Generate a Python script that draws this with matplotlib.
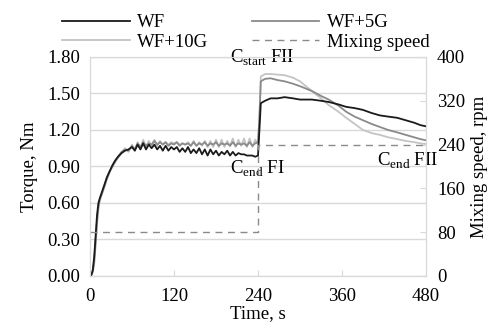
import numpy as np
import matplotlib.pyplot as plt
from matplotlib.lines import Line2D

plt.rcParams['font.family'] = ['Liberation Serif', 'DejaVu Serif']
plt.rcParams['mathtext.fontset'] = 'custom'
plt.rcParams['mathtext.rm'] = 'Liberation Serif'
plt.rcParams['font.size'] = 13.5

# --- data ---
# phase I (0-240 s), torque in Nm
t1 = [0, 2, 4, 6, 8, 10, 12, 14, 17, 20, 24, 28, 32, 36, 40, 45, 50, 55, 60, 64, 68, 72,
      76, 80, 84, 88, 92, 96, 100, 104, 108, 112, 116, 120, 124, 128, 132, 136, 140, 144,
      148, 152, 156, 160, 164, 168, 172, 176, 180, 184, 188, 192, 196, 200, 204, 208, 212,
      216, 220, 224, 228, 232, 236, 240]
wf_1 = [0.0, 0.01, 0.05, 0.16, 0.33, 0.50, 0.60, 0.64, 0.69, 0.74, 0.81, 0.86, 0.91, 0.95,
        0.98, 1.01, 1.03, 1.04, 1.06, 1.03, 1.08, 1.04, 1.09, 1.04, 1.08, 1.05, 1.08, 1.04,
        1.07, 1.03, 1.07, 1.03, 1.06, 1.04, 1.06, 1.02, 1.05, 1.02, 1.06, 1.01, 1.04, 1.01,
        1.05, 1.00, 1.04, 0.99, 1.04, 1.00, 1.03, 0.99, 1.02, 1.00, 1.03, 0.99, 1.02, 0.99,
        1.01, 1.00, 1.00, 0.99, 0.99, 0.99, 0.98, 0.99]
g5_1 = [0.0, 0.01, 0.04, 0.12, 0.28, 0.45, 0.57, 0.63, 0.68, 0.73, 0.80, 0.86, 0.90, 0.94,
        0.98, 1.02, 1.04, 1.03, 1.07, 1.04, 1.09, 1.06, 1.10, 1.07, 1.09, 1.08, 1.11, 1.08,
        1.10, 1.08, 1.10, 1.07, 1.09, 1.08, 1.10, 1.07, 1.09, 1.08, 1.09, 1.07, 1.10, 1.07,
        1.09, 1.08, 1.10, 1.07, 1.09, 1.08, 1.10, 1.07, 1.09, 1.08, 1.09, 1.07, 1.10, 1.07,
        1.09, 1.08, 1.09, 1.07, 1.10, 1.07, 1.09, 1.10]
g10_1 = [0.0, 0.01, 0.03, 0.10, 0.25, 0.42, 0.55, 0.62, 0.67, 0.72, 0.79, 0.85, 0.90, 0.94,
         0.97, 1.01, 1.05, 1.02, 1.08, 1.03, 1.10, 1.05, 1.12, 1.06, 1.11, 1.07, 1.12, 1.07,
         1.11, 1.08, 1.10, 1.08, 1.10, 1.09, 1.10, 1.08, 1.09, 1.08, 1.10, 1.07, 1.11, 1.07,
         1.10, 1.07, 1.11, 1.06, 1.11, 1.06, 1.12, 1.06, 1.12, 1.06, 1.11, 1.07, 1.13, 1.06,
         1.12, 1.07, 1.13, 1.06, 1.13, 1.06, 1.12, 1.08]

# phase II (240-480 s)
t2 = [242, 244, 250, 258, 268, 278, 290, 300, 317, 330, 341, 355, 366, 378, 390, 402,
      414, 426, 439, 451, 463, 472, 480]
wf_2 = [1.20, 1.42, 1.44, 1.46, 1.46, 1.47, 1.46, 1.45, 1.45, 1.44, 1.43, 1.41, 1.39, 1.38,
        1.365, 1.34, 1.32, 1.31, 1.30, 1.28, 1.26, 1.24, 1.23]
g5_2 = [1.30, 1.60, 1.62, 1.625, 1.61, 1.60, 1.58, 1.56, 1.52, 1.48, 1.45, 1.40, 1.35, 1.31,
        1.28, 1.25, 1.225, 1.20, 1.18, 1.16, 1.14, 1.125, 1.115]
g10_2 = [1.30, 1.64, 1.66, 1.66, 1.655, 1.65, 1.63, 1.60, 1.52, 1.46, 1.405, 1.35, 1.30,
         1.25, 1.20, 1.175, 1.16, 1.14, 1.125, 1.11, 1.10, 1.09, 1.085]

# mixing speed, rpm
speed_t = [0, 240, 240, 480]
speed_rpm = [80, 80, 240, 240]

t = t1 + t2
wf = wf_1 + wf_2
g5 = g5_1 + g5_2
g10 = g10_1 + g10_2

c_wf = '#1a1a1a'
c_5g = '#8a8a8a'
c_10g = '#c4c4c4'
c_speed = '#8a8a8a'
c_grid = '#d9d9d9'

fig = plt.figure(figsize=(4.9, 3.26), dpi=100)
ax = fig.add_axes([0.1837, 0.1534, 0.6857, 0.6718])

ax.plot(t, g10, color=c_10g, lw=1.3, zorder=3)
ax.plot(t, g5, color=c_5g, lw=1.3, zorder=4)
ax.plot(t, wf, color=c_wf, lw=1.3, zorder=5)

ax.set_xlim(0, 480)
ax.set_ylim(0, 1.8)
ax.set_xticks([0, 120, 240, 360, 480])
ax.set_yticks(np.arange(0, 1.81, 0.3))
ax.set_yticklabels([f'{v:.2f}' for v in np.arange(0, 1.81, 0.3)])
ax.yaxis.grid(True, color=c_grid, lw=1.0)
ax.set_axisbelow(True)
ax.tick_params(axis='y', length=0, pad=7)
ax.tick_params(axis='x', direction='in', length=4, color=c_grid, pad=9)
for s in ax.spines.values():
    s.set_color(c_grid)
ax.set_xlabel('Time, s', labelpad=0)
ax.set_ylabel('Torque, Nm', labelpad=7)

ax2 = ax.twinx()
ax2.plot(speed_t, speed_rpm, color=c_speed, lw=1.0, ls=(0, (5, 4)), zorder=2)
ax2.set_ylim(0, 400)
ax2.set_yticks([0, 80, 160, 240, 320, 400])
ax2.tick_params(axis='y', direction='in', length=4, color=c_grid, pad=8)
for s in ax2.spines.values():
    s.set_color(c_grid)
ax2.set_ylabel('Mixing speed, rpm', labelpad=4)

# annotations
ax.text(200, 1.79, r'C$_{\rm start}$ FII', ha='left', va='center')
ax.text(200, 0.88, r'C$_{\rm end}$ FI', ha='left', va='center')
ax.text(410, 0.95, r'C$_{\rm end}$ FII', ha='left', va='center')

handles = [Line2D([], [], color=c_wf, lw=1.3),
           Line2D([], [], color=c_10g, lw=1.3),
           Line2D([], [], color=c_5g, lw=1.3),
           Line2D([], [], color=c_speed, lw=1.0, ls=(0, (5, 4)))]
labels = ['WF', 'WF+10G', 'WF+5G', 'Mixing speed']
fig.legend(handles, labels, ncol=2, frameon=False, loc='upper left',
           bbox_to_anchor=(0.112, 0.98), handlelength=3.6, handletextpad=0.4,
           columnspacing=2.3, labelspacing=0.12, borderaxespad=0)

fig.savefig('out.png', dpi=100)
